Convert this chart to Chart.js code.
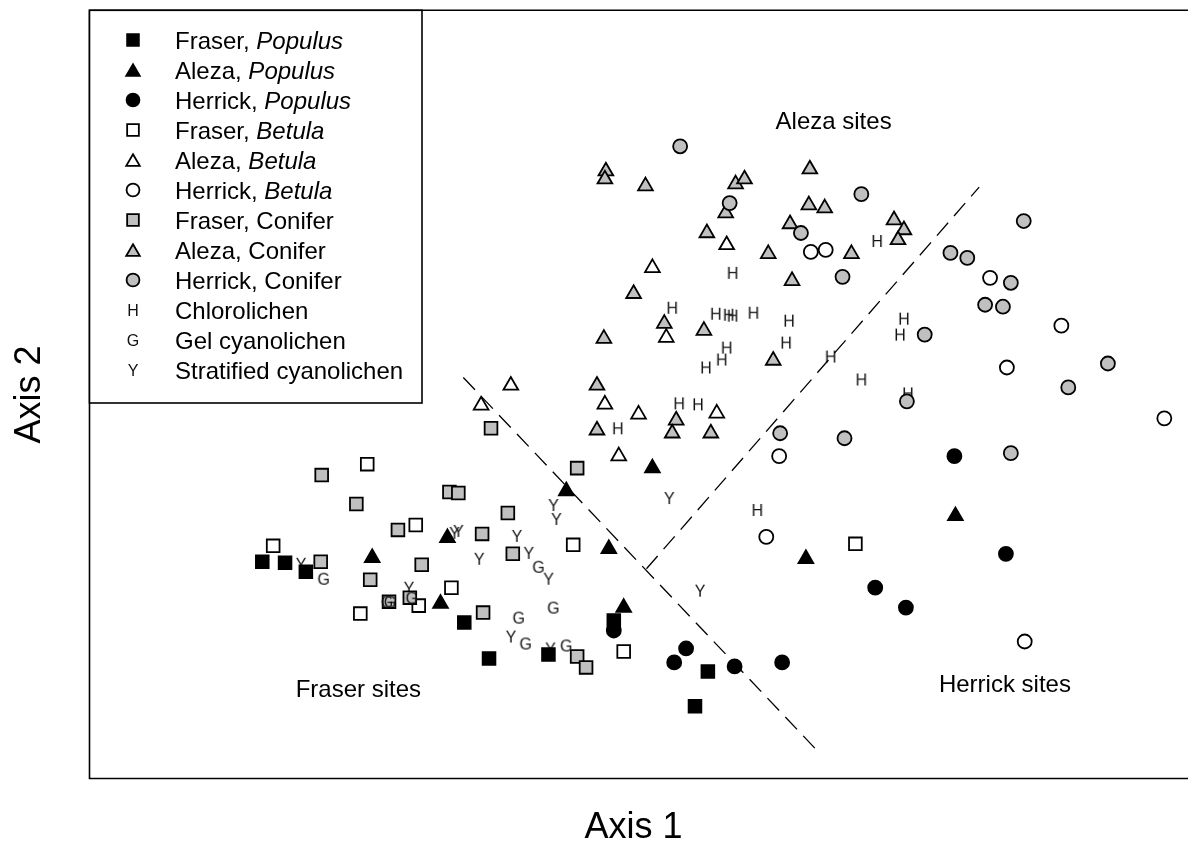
<!DOCTYPE html>
<html><head><meta charset="utf-8">
<script src="https://cdn.jsdelivr.net/npm/chart.js@4/dist/chart.umd.min.js"></script>
<style>html,body{margin:0;padding:0;background:#fff;}#wrap{width:1188px;height:863px;position:relative;}</style>
</head><body><div id="wrap"><canvas id="c"></canvas></div>
<script>
// Ordination scores (Axis 1, Axis 2), arbitrary units
const fraserPopulus = [[174,217],[197,216],[218,207],[378,156],[403,120],[463,124],[529,158],[611,72],[624,107]];
const alezaPopulus = [[285,221],[361,241],[354,175],[481,288],[568,311],[524,230],[539,171],[723,220],[874,263]];
const herrickPopulus = [[529,148],[602,130],[590,116],[651,112],[699,116],[793,191],[824,171],[873,323],[925,225]];
const fraserBetula = [[280,315],[185,233],[329,254],[365,191],[332,173],[273,165],[488,234],[539,127],[773,235]];
const alezaBetula = [[425,394],[395,374],[520,375],[554,365],[534,323],[633,366],[582,442],[568,512],[643,535]];
const herrickBetula = [[728,528],[743,530],[909,502],[981,454],[926,412],[1085,361],[696,323],[683,242],[944,137]];
const fraserConifer = [[234,304],[269,275],[363,287],[372,286],[311,249],[396,245],[335,214],[233,217],[283,199],[302,177],[323,181],[397,166],[405,351],[492,311],[422,266],[427,225],[492,122],[501,111]];
const alezaConifer = [[521,609],[520,601],[561,594],[652,596],[661,601],[642,567],[623,547],[727,611],[726,575],[742,572],[707,556],[685,526],[769,526],[709,499],[812,560],[822,550],[816,540],[549,486],[580,456],[620,449],[519,441],[690,419],[512,394],[512,349],[592,359],[588,346],[627,346]];
const herrickConifer = [[596,634],[646,577],[779,586],[718,547],[760,503],[843,445],[825,378],[697,346],[762,341],[943,559],[869,527],[886,522],[930,497],[904,475],[922,473],[1028,416],[988,392],[930,326]];
const chlorolichen = [[649,507],[795,539],[588,472],[632,466],[645,465],[649,464],[670,467],[706,459],[703,437],[643,432],[638,420],[622,412],[748,423],[779,400],[822,461],[818,445],[826,386],[595,376],[614,375],[533,351],[674,269]];
const gelCyanolichen = [[236,200],[300,177],[303,177],[325,181],[453,212],[468,171],[433,161],[440,135],[481,133]];
const stratCyanolichen = [[213,215],[322,191],[368,246],[372,248],[393,220],[468,274],[471,260],[585,281],[431,243],[443,226],[463,200],[616,188],[425,142],[465,130]];
// dashed group boundaries
const boundary1 = [[377,402],[732,30]];
const boundary2 = [[562,210],[898,593]];
// group labels
const siteLabels = ['Aleza sites','Fraser sites','Herrick sites'];
const siteLabelX = [751,271,924];
const siteLabelY = [651,81,86];
// legend text: [normal part, italic part]
const legendText = [['Fraser, ','Populus'],['Aleza, ','Populus'],['Herrick, ','Populus'],['Fraser, ','Betula'],['Aleza, ','Betula'],['Herrick, ','Betula'],['Fraser, Conifer',''],['Aleza, Conifer',''],['Herrick, Conifer',''],['Chlorolichen',''],['Gel cyanolichen',''],['Stratified cyanolichen','']];
const axisTitles = ['Axis 1','Axis 2'];

const FONT = '"Liberation Sans", Arial, Helvetica, sans-serif';
const GRAY = '#c0c0c0';
function letterMarker(ch){
  const c=document.createElement('canvas'); c.width=18; c.height=18;
  const g=c.getContext('2d'); g.fillStyle='#111'; g.font='16px '+FONT;
  g.textAlign='center'; g.textBaseline='alphabetic'; g.fillText(ch,9,9+5.7);
  return c;
}
const toXY = a => a.map(p => ({x:p[0], y:p[1]}));
function pts(data, style, fill, order){
  const r = style==='rect'?9:(style==='triangle'?8.5:7);
  return {type:'scatter', data:toXY(data), pointStyle:style, pointRadius:r, pointHoverRadius:r,
    backgroundColor:fill, borderColor:'#000', borderWidth:1.8, order:order, clip:false};
}
function letters(data, ch, order){
  const img = letterMarker(ch);
  return {type:'scatter', data:toXY(data), pointStyle:img, pointRadius:9, backgroundColor:'#111', borderColor:'#111', order:order, clip:false};
}
function dashed(data){
  return {type:'scatter', data:toXY(data), showLine:true, borderDash:[17,9], borderColor:'#000', borderWidth:1.3, pointRadius:0, order:10, clip:false};
}
const seriesDs = [
  pts(fraserPopulus,'rect','#000',3),
  pts(alezaPopulus,'triangle','#000',2),
  pts(herrickPopulus,'circle','#000',1),
  pts(fraserBetula,'rect','#fff',9),
  pts(alezaBetula,'triangle','#fff',8),
  pts(herrickBetula,'circle','#fff',7),
  pts(fraserConifer,'rect',GRAY,4),
  pts(alezaConifer,'triangle',GRAY,6),
  pts(herrickConifer,'circle',GRAY,5),
  letters(chlorolichen,'H',11),
  letters(gelCyanolichen,'G',0),
  letters(stratCyanolichen,'Y',12)
];
const datasets = seriesDs.concat([dashed(boundary1), dashed(boundary2)]);

function drawMarker(ctx, ds, x, y){
  const st = ds.pointStyle, r = ds.pointRadius;
  if (typeof st !== 'string'){ ctx.drawImage(st, x-9, y-9); return; }
  ctx.save(); ctx.fillStyle = ds.backgroundColor; ctx.strokeStyle='#000'; ctx.lineWidth=1.8;
  ctx.beginPath();
  if (st==='rect'){ const s=Math.SQRT1_2*r*0.92; ctx.rect(x-s,y-s,2*s,2*s); }
  else if (st==='triangle'){ const rr=r*0.92; for(let k=0;k<3;k++){const a=k*2*Math.PI/3; const px=x+Math.sin(a)*rr, py=y+2-Math.cos(a)*rr; k?ctx.lineTo(px,py):ctx.moveTo(px,py);} ctx.closePath(); }
  else { ctx.arc(x,y,r*0.92,0,2*Math.PI); }
  ctx.fill(); ctx.stroke(); ctx.restore();
}

const decor = {
  id:'decor',
  afterDraw(chart){
    const {ctx, chartArea:ca, scales:{x,y}} = chart;
    ctx.save();
    // frame
    ctx.strokeStyle='#000'; ctx.lineWidth=1.6;
    ctx.beginPath(); ctx.moveTo(chart.width, ca.top-0.5); ctx.lineTo(ca.left-0.5, ca.top-0.5);
    ctx.lineTo(ca.left-0.5, ca.bottom+0.5); ctx.lineTo(chart.width, ca.bottom+0.5); ctx.stroke();
    // axis titles
    ctx.fillStyle='#000'; ctx.font='36px '+FONT; ctx.textAlign='center'; ctx.textBaseline='alphabetic';
    ctx.fillText(axisTitles[0], (ca.left+ca.right)/2, 838);
    ctx.save(); ctx.translate(40,(ca.top+ca.bottom)/2); ctx.rotate(-Math.PI/2); ctx.fillText(axisTitles[1],0,0); ctx.restore();
    // site labels
    ctx.font='24px '+FONT;
    for(let i=0;i<siteLabels.length;i++) ctx.fillText(siteLabels[i], x.getPixelForValue(siteLabelX[i]), y.getPixelForValue(siteLabelY[i]));
    // legend
    const L=ca.left-0.5, T=ca.top-0.5, R=422, B=403;
    ctx.fillStyle='#fff'; ctx.fillRect(L,T,R-L,B-T);
    ctx.strokeStyle='#000'; ctx.lineWidth=1.6; ctx.strokeRect(L,T,R-L,B-T);
    ctx.textAlign='left';
    for(let i=0;i<legendText.length;i++){
      const yy = 40 + i*30;
      drawMarker(ctx, seriesDs[i], 133, yy);
      ctx.fillStyle='#000';
      ctx.font='24px '+FONT;
      ctx.fillText(legendText[i][0], 175, yy+8.5);
      if(legendText[i][1]){
        const w=ctx.measureText(legendText[i][0]).width;
        ctx.font='italic 24px '+FONT;
        ctx.fillText(legendText[i][1], 175+w, yy+8.5);
      }
    }
    ctx.restore();
  }
};

new Chart(document.getElementById('c'), {
  type:'scatter',
  data:{datasets},
  options:{
    responsive:true, maintainAspectRatio:false, animation:false,
    layout:{padding:{left:90, top:8, right:0, bottom:85}},
    plugins:{legend:{display:false}, tooltip:{enabled:false}},
    scales:{
      x:{type:'linear', min:0, max:1098, display:false},
      y:{type:'linear', min:0, max:770, display:false}
    }
  },
  plugins:[decor]
});
</script></body></html>
